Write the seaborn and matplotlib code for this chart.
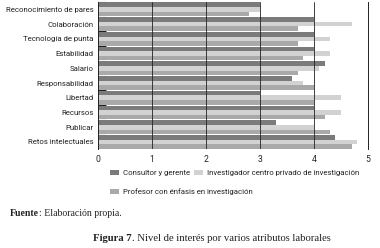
import matplotlib
matplotlib.use("Agg")
import matplotlib.pyplot as plt
import seaborn as sns
import pandas as pd
from matplotlib.patches import Patch

categories = ["Reconocimiento de pares", "Colaboración", "Tecnología de punta", "Estabilidad",
              "Salario", "Responsabilidad", "Libertad", "Recursos", "Publicar", "Retos intelectuales"]
series = ["Consultor y gerente", "Investigador centro privado de investigación",
          "Profesor con énfasis en investigación"]
consultor = [3.0, 4.0, 4.0, 4.0, 4.2, 3.6, 3.0, 4.0, 3.3, 4.4]
investigador = [3.0, 4.7, 4.3, 4.3, 4.1, 3.8, 4.5, 4.5, 4.0, 4.8]
profesor = [2.8, 3.7, 3.7, 3.8, 3.7, 4.0, 4.0, 4.2, 4.3, 4.7]
colors = ["#7b7b7b", "#d2d2d2", "#a9a9a9"]

rows = []
for s, vals in zip(series, [consultor, investigador, profesor]):
    for c, v in zip(categories, vals):
        rows.append({"cat": c, "serie": s, "val": v})
df = pd.DataFrame(rows)

sns.set_style("white")
plt.rcParams["font.family"] = ["Roboto", "DejaVu Sans"]

fig = plt.figure(figsize=(3.8, 2.48), dpi=100)
ax = fig.add_axes([0.257, 0.398, 0.711, 0.594])
sns.barplot(data=df, y="cat", x="val", hue="serie", order=categories, hue_order=series,
            palette=colors, orient="h", width=0.94, ax=ax, legend=False, saturation=1,
            errorbar=None, linewidth=0)
ax.set_xlim(0, 5)
ax.set_ylim(len(categories) - 0.5, -0.5)
ax.set_xticks([0, 1, 2, 3, 4, 5])
ax.set_xticklabels(["0", "1", "2", "3", "4", "5"], fontsize=6.2, color="#222222")
ax.tick_params(axis="x", length=0, pad=4)
ax.tick_params(axis="y", length=0, labelsize=5.6, pad=3, labelcolor="#222222")
ax.set_yticks(range(len(categories)))
ax.set_yticklabels(categories)
ax.set_yticks([i - 0.5 for i in range(len(categories))], minor=True)
ax.tick_params(axis="y", which="minor", direction="in", length=6, width=0.8, color="#222222", left=True)
ax.set_xlabel("")
ax.set_ylabel("")
for xv in [1, 2, 3, 4]:
    ax.axvline(xv, color="#222222", linewidth=0.6, zorder=5)
for side in ["top", "bottom"]:
    ax.spines[side].set_visible(False)
for side in ["left", "right"]:
    ax.spines[side].set_visible(True)
    ax.spines[side].set_color("#222222")
    ax.spines[side].set_linewidth(0.7)

# legend entries placed individually (first row: two entries, second row: one)
legend_pos = [(0.289, 0.302), (0.511, 0.302), (0.289, 0.226)]
for s, c, pos in zip(series, colors, legend_pos):
    lg = fig.legend([Patch(facecolor=c, edgecolor="none")], [s], loc="center left",
                    bbox_to_anchor=pos, frameon=False, fontsize=5.6, handlelength=1.15,
                    handleheight=0.65, handletextpad=0.5, borderpad=0, borderaxespad=0)
    for txt in lg.get_texts():
        txt.set_color("#222222")

fig.canvas.draw()
r = fig.canvas.get_renderer()
serif = ["Liberation Serif", "DejaVu Serif"]
t = fig.text(0.026, 0.128, "Fuente", fontsize=7.0, family=serif, fontweight="bold",
             color="#222222")
w = t.get_window_extent(r).width / fig.bbox.width
fig.text(0.026 + w, 0.128, ": Elaboración propia.", fontsize=7.0, family=serif,
         color="#222222")
t1 = fig.text(0.245, 0.03, "Figura 7", fontsize=7.7, family=serif, fontweight="bold",
              color="#222222")
w1 = t1.get_window_extent(r).width / fig.bbox.width
fig.text(0.245 + w1, 0.03, ". Nivel de interés por varios atributos laborales", fontsize=7.7,
         family=serif, color="#222222")

fig.savefig("out.png", dpi=100)
